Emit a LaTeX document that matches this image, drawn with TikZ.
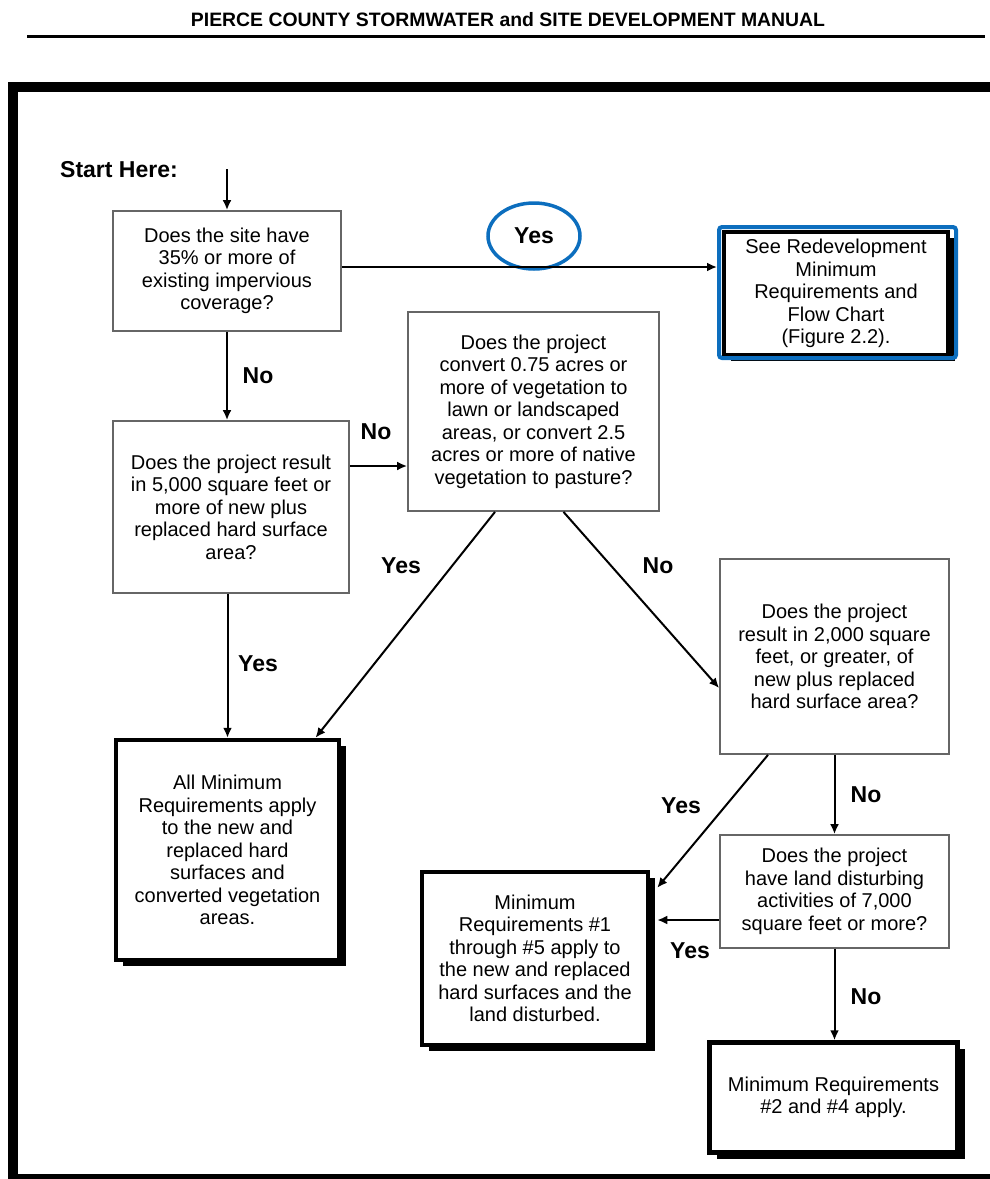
\documentclass[tikz,border=0pt]{standalone}
\usepackage{fontspec}
\setmainfont{Liberation Sans}
\usepackage{xcolor}
\definecolor{hiblue}{RGB}{12,110,190}
\definecolor{boxgray}{rgb}{0.4,0.4,0.4}
\usetikzlibrary{positioning, arrows.meta, shapes.geometric, shadows}

\begin{document}
\begin{tikzpicture}
[x=1pt, y=-1pt,
 >={Latex[length=10pt,width=9pt]},
 every node/.style={inner sep=0pt, font=\fontsize{20}{22.5}\selectfont},
 question/.style={draw=boxgray, line width=1.8pt, fill=white, align=center},
 outcome/.style={draw, line width=4.5pt, fill=white, align=center,
   drop shadow={shadow xshift=7pt, shadow yshift=-6pt, fill=black, opacity=1}},
 hilite/.style={draw=hiblue, line width=4pt, rounded corners=3pt},
 answer/.style={font=\fontsize{23}{26}\selectfont\bfseries},
 flow/.style={->, line width=2pt},
]
\useasboundingbox (0,0) rectangle (990,1179);

% page header and frame
\node[font=\fontsize{19.4}{22}\selectfont\bfseries, anchor=base] (title) at (508,26)
  {PIERCE COUNTY STORMWATER and SITE DEVELOPMENT MANUAL};
\draw[line width=3pt] (27,36) -- (985,36);
\fill (8,82) rectangle (990,92);
\fill (8,82) rectangle (18,1179);
\fill (8,1174) rectangle (990,1179);

\node[answer, anchor=west] (start) at (60,170) {Start Here:};
\coordinate (in) at (227,169);

% questions
\node[question, minimum width=228pt, minimum height=120pt] (q1) at (227,271)
  {Does the site have\\35\% or more of\\existing impervious\\coverage?};
\node[question, minimum width=236pt, minimum height=172pt] (q2) at (231,507)
  {Does the project result\\in 5,000 square feet or\\more of new plus\\replaced hard surface\\area?};
\node[question, minimum width=251pt, minimum height=199pt] (q3) at (533.5,411.5)
  {Does the project\\convert 0.75 acres or\\more of vegetation to\\lawn or landscaped\\areas, or convert 2.5\\acres or more of native\\vegetation to pasture?};
\node[question, minimum width=229pt, minimum height=195pt] (q4) at (834.5,656.5)
  {Does the project\\result in 2,000 square\\feet, or greater, of\\new plus replaced\\hard surface area?};
\node[question, minimum width=229pt, minimum height=113pt] (q5) at (834.5,891.5)
  {Does the project\\have land disturbing\\activities of 7,000\\square feet or more?};

% outcomes
\node[outcome, line width=4pt, minimum width=224pt, minimum height=123pt] (redev) at (836,293.5)
  {See Redevelopment\\Minimum\\Requirements and\\Flow Chart\\(Figure 2.2).};
\node[hilite, minimum width=237pt, minimum height=131pt] (hl) at (837.5,292.5) {};
\node[outcome, minimum width=223pt, minimum height=220pt] (allmin) at (227.5,850)
  {All Minimum\\Requirements apply\\to the new and\\replaced hard\\surfaces and\\converted vegetation\\areas.};
\node[outcome, minimum width=226pt, minimum height=173pt] (mr15) at (535,958.5)
  {Minimum\\Requirements \#1\\through \#5 apply to\\the new and replaced\\hard surfaces and the\\land disturbed.};
\node[outcome, minimum width=248pt, minimum height=110pt] (mr24) at (833.5,1097.5)
  {Minimum Requirements\\\#2 and \#4 apply.};

% answers
\node[answer, ellipse, draw=hiblue, line width=3.5pt, minimum width=92pt, minimum height=66pt]
  (yes1) at (534,236) {Yes};
\node[answer] (no1) at (258,376) {No};
\node[answer] (no2) at (376,432) {No};
\node[answer] (yes2) at (258,664) {Yes};
\node[answer] (yes3) at (401,566) {Yes};
\node[answer] (no3) at (658,566) {No};
\node[answer] (yes4) at (681,806) {Yes};
\node[answer] (no4) at (866,795) {No};
\node[answer] (yes5) at (690,951) {Yes};
\node[answer] (no5) at (866,997) {No};

\draw[flow] (in) -- (in |- q1.north);
\draw[flow] ([yshift=4pt]q1.east) -- ([yshift=4pt]q1.east -| hl.west);
\draw[flow] (q1.south) -- (q1.south |- q2.north);
\draw[flow] ([yshift=41pt]q2.east) -- ([yshift=41pt]q2.east -| q3.west);
\draw[flow] (q2.south -| allmin.north) -- (allmin.north);
\draw[flow] ([xshift=-38.5pt]q3.south) -- ([xshift=88pt]allmin.north);
\draw[flow] ([xshift=30pt]q3.south) -- ([yshift=-31.5pt]q4.west);
\draw[flow] (q4.south) -- (q5.north);
\draw[flow] ([xshift=-66.5pt]q4.south) -- ([shift={(7pt,-18pt)}]mr15.north east);
\draw[flow, shorten >=7pt] ([yshift=-28.5pt]q5.west) -- ([yshift=-28.5pt]q5.west -| mr15.east);
\draw[flow] (q5.south) -- (q5.south |- mr24.north);
\end{tikzpicture}
\end{document}
